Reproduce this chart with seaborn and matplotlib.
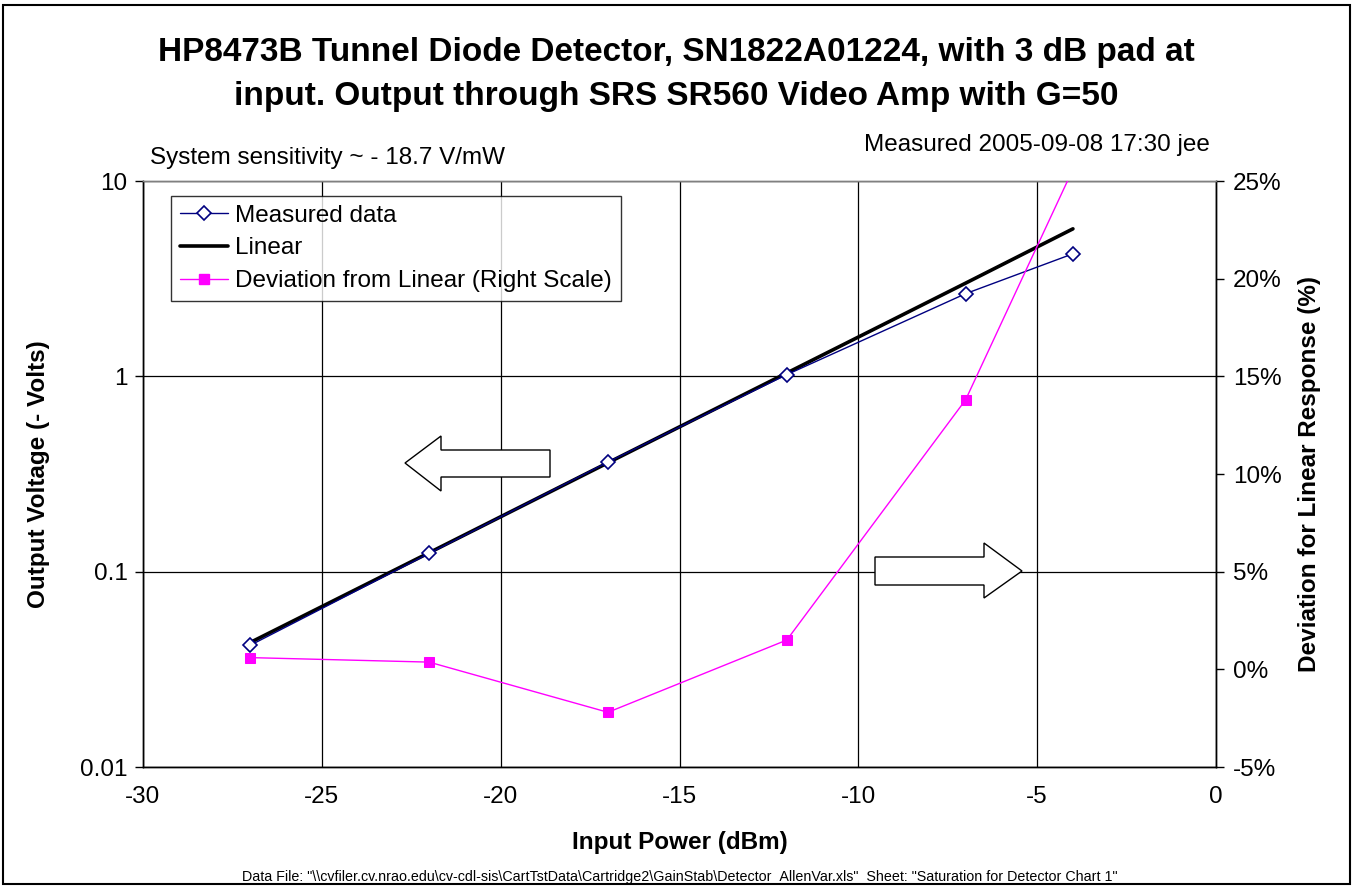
import numpy as np
import pandas as pd
import matplotlib
matplotlib.use("Agg")
import matplotlib.pyplot as plt
from matplotlib.patches import Polygon, Rectangle
from matplotlib.lines import Line2D
import seaborn as sns

# ---- data ----
power_dbm = [-27, -22, -17, -12, -7, -4]
measured_v = [0.042, 0.124, 0.364, 1.02, 2.65, 4.24]
linear_x = [-27, -22, -17, -12, -7, -4]
linear_v = [0.0434, 0.125, 0.361, 1.04, 3.0, 5.69]
deviation_pct = [0.6, 0.37, -2.2, 1.5, 13.8, 25.6]

x_ticks = [-30, -25, -20, -15, -10, -5, 0]
y_ticks = [0.01, 0.1, 1, 10]
y_tick_labels = ["0.01", "0.1", "1", "10"]
r_ticks = [-5, 0, 5, 10, 15, 20, 25]
r_tick_labels = ["-5%", "0%", "5%", "10%", "15%", "20%", "25%"]

sns.set_style("white")
plt.rcParams["font.family"] = ["Liberation Sans", "DejaVu Sans"]
plt.rcParams["text.color"] = "black"
plt.rcParams["axes.labelcolor"] = "black"
plt.rcParams["xtick.color"] = "black"
plt.rcParams["ytick.color"] = "black"

W, H = 1353, 886
fig = plt.figure(figsize=(W / 100, H / 100), dpi=100)

def fx(x):
    return x / W

def fy(y):
    return 1 - y / H

AX_L, AX_R, AX_T, AX_B = 143, 1216, 181, 767
ax = fig.add_axes([fx(AX_L), fy(AX_B), fx(AX_R) - fx(AX_L), fy(AX_T) - fy(AX_B)])
ax2 = ax.twinx()

ax.set_yscale("log")
ax.set_xlim(-30, 0)
ax.set_ylim(0.01, 10)
ax2.set_ylim(-5, 25)

df_m = pd.DataFrame({"p": power_dbm, "v": measured_v})
df_l = pd.DataFrame({"p": linear_x, "v": linear_v})
df_d = pd.DataFrame({"p": power_dbm, "d": deviation_pct})

sns.lineplot(data=df_l, x="p", y="v", ax=ax, color="black", linewidth=2.6,
             zorder=3, legend=False)
sns.lineplot(data=df_m, x="p", y="v", ax=ax, color="#000080", linewidth=1.0,
             marker="D", markersize=7, markerfacecolor="white",
             markeredgecolor="#000080", markeredgewidth=1.2, zorder=4, legend=False)
sns.lineplot(data=df_d, x="p", y="d", ax=ax2, color="#FF00FF", linewidth=1.0,
             marker="s", markersize=6.5, markerfacecolor="#FF00FF",
             markeredgecolor="#FF00FF", zorder=4, legend=False)

ax.set_xticks(x_ticks)
ax.set_xticklabels([str(v) for v in x_ticks])
ax.set_yticks(y_ticks)
ax.set_yticklabels(y_tick_labels)
ax.yaxis.set_minor_locator(matplotlib.ticker.NullLocator())
ax2.set_yticks(r_ticks)
ax2.set_yticklabels(r_tick_labels)

ax.grid(True, which="major", color="black", linewidth=0.9)
ax2.grid(False)
ax.set_axisbelow(True)

for a in (ax, ax2):
    a.tick_params(axis="both", which="major", direction="out", length=6, width=1,
                  color="black", labelsize=17.5, colors="black")
    for s in a.spines.values():
        s.set_color("black")
        s.set_linewidth(1.0)
ax.spines["top"].set_color("#808080")
ax2.spines["top"].set_color("#808080")
ax.tick_params(axis="x", pad=8)
ax.tick_params(axis="y", pad=5)
ax2.tick_params(axis="y", pad=6)

ax.set_xlabel("Input Power (dBm)", fontsize=17.5, fontweight="bold", labelpad=16)
ax.set_ylabel("Output Voltage (- Volts)", fontsize=17.5, fontweight="bold", labelpad=22)
ax2.set_ylabel("Deviation for Linear Response (%)", fontsize=17.5, fontweight="bold",
               labelpad=12)

# legend
handles = [
    Line2D([], [], color="#000080", linewidth=1.0, marker="D", markersize=7,
           markerfacecolor="white", markeredgecolor="#000080", markeredgewidth=1.2),
    Line2D([], [], color="black", linewidth=2.6),
    Line2D([], [], color="#FF00FF", linewidth=1.0, marker="s", markersize=6.5,
           markerfacecolor="#FF00FF", markeredgecolor="#FF00FF"),
]
labels = ["Measured data", "Linear", "Deviation from Linear (Right Scale)"]
leg = ax2.legend(handles, labels, loc="upper left",
                 bbox_to_anchor=((171 - AX_L) / (AX_R - AX_L), 1 - (196 - AX_T) / (AX_B - AX_T)),
                 fontsize=17.5, frameon=True, fancybox=False, shadow=False,
                 borderaxespad=0, handlelength=2.0, handletextpad=0.3,
                 labelspacing=0.45, borderpad=0.35)
leg.get_frame().set_edgecolor("black")
leg.get_frame().set_linewidth(1.0)
leg.set_zorder(10)

# block arrows (decorations)
left_arrow = [(405, 463), (441, 436), (441, 450), (550, 450), (550, 477),
              (441, 477), (441, 491)]
right_arrow = [(1022, 571), (984, 543), (984, 557), (875, 557), (875, 585),
               (984, 585), (984, 598)]
for pts in (left_arrow, right_arrow):
    poly = Polygon([(fx(x), fy(y)) for x, y in pts], closed=True,
                   transform=fig.transFigure, facecolor="white", edgecolor="black",
                   linewidth=1.0, zorder=5)
    fig.add_artist(poly)

# texts
fig.text(fx(676), fy(52), "HP8473B Tunnel Diode Detector, SN1822A01224, with 3 dB pad at",
         ha="center", va="center", fontsize=24, fontweight="bold")
fig.text(fx(676), fy(96), "input. Output through SRS SR560 Video Amp with G=50",
         ha="center", va="center", fontsize=24, fontweight="bold")
fig.text(fx(150), fy(158), "System sensitivity ~ - 18.7 V/mW", ha="left", va="center",
         fontsize=17.5)
fig.text(fx(1210), fy(145), "Measured 2005-09-08 17:30 jee", ha="right", va="center",
         fontsize=17.5)
fig.text(fx(680), fy(877),
         'Data File: "\\\\cvfiler.cv.nrao.edu\\cv-cdl-sis\\CartTstData\\Cartridge2\\GainStab\\Detector_AllenVar.xls"  Sheet: "Saturation for Detector Chart 1"',
         ha="center", va="center", fontsize=10.3)

# outer frame
fig.add_artist(Rectangle((fx(3), fy(884)), fx(1350) - fx(3), fy(5) - fy(884),
                         transform=fig.transFigure, fill=False, edgecolor="black",
                         linewidth=1.5))

fig.savefig("out.png", dpi=100)
